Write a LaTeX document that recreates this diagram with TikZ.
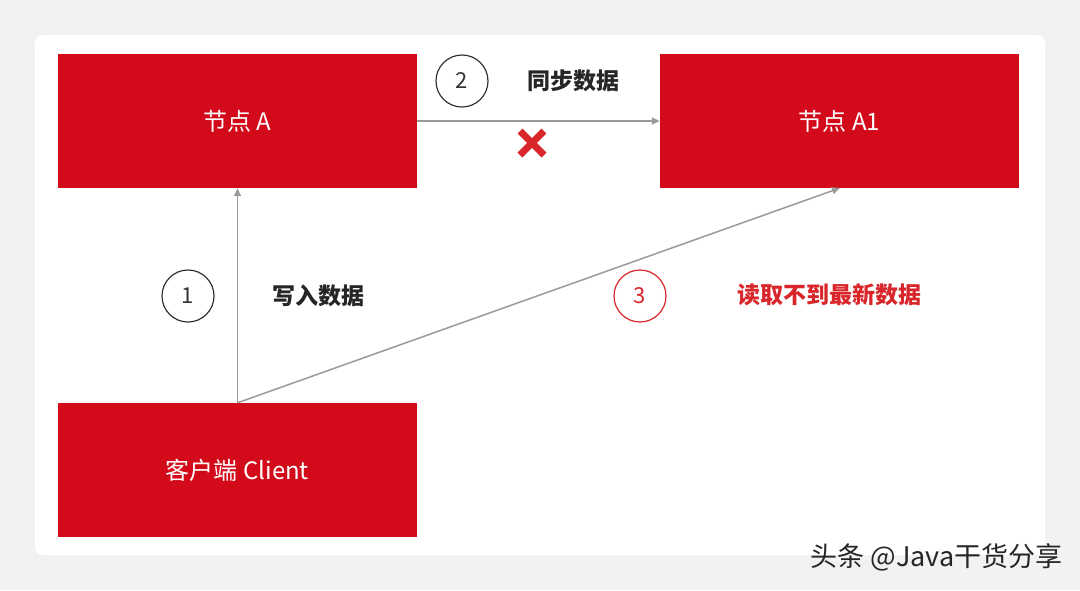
\documentclass[tikz,border=0pt]{standalone}
\usepackage{fontspec}
\setmainfont{Noto Sans CJK SC}
\usetikzlibrary{arrows.meta}
\definecolor{bred}{HTML}{D20A1A}
\definecolor{tred}{HTML}{D9262B}
\definecolor{ln}{HTML}{9A9A9A}
\tikzset{
 box/.style={fill=bred,minimum width=359pt,minimum height=134pt,inner sep=0,text=white,font=\fontsize{24}{26}\selectfont},
 num/.style={circle,draw=#1,line width=1.2pt,minimum size=52pt,inner sep=0,text=#1,font=\fontsize{22}{24}\selectfont},
 lab/.style={font=\bfseries\fontsize{23}{26}\selectfont},
 con/.style={draw=ln,line width=1.5pt,-{Triangle[length=8pt,width=7pt]}}
}
\begin{document}
\begin{tikzpicture}[x=1pt,y=-1pt]
\useasboundingbox (0,0) rectangle (1080,590);
\fill[black!5] (0,0) rectangle (1080,590);
\fill[white,rounded corners=8pt] (35,35) rectangle (1045,555);
\node[box] (a) at (237.5,121) {节点 A};
\node[box] (a1) at (839.5,121) {节点 A1};
\node[box] (c) at (237.5,470) {客户端 Client};
\draw[con] (c.north) -- (a.south);
\draw[con] (a.east) -- (a1.west);
\coordinate (t) at (840,188);
\draw[con] (c.north) -- (t);
\node[num=black!80] (n1) at (188,296) {1};
\node[num=black!80] (n2) at (462,81) {2};
\node[num=tred] (n3) at (640,296) {3};
\node[lab,text=black!85] (l1) at (318,296) {写入数据};
\node[lab,text=black!85] (l2) at (573,81) {同步数据};
\node[lab,text=tred] (l3) at (829,295) {读取不到最新数据};
\node (x) at (532,143) {};
\draw[tred,line width=7pt] (520,131) -- (544,155) (544,131) -- (520,155);
\node[anchor=east,text=black!85,font=\fontsize{27}{29}\selectfont] (w) at (1066,557) {头条 @Java干货分享};
\end{tikzpicture}
\end{document}
